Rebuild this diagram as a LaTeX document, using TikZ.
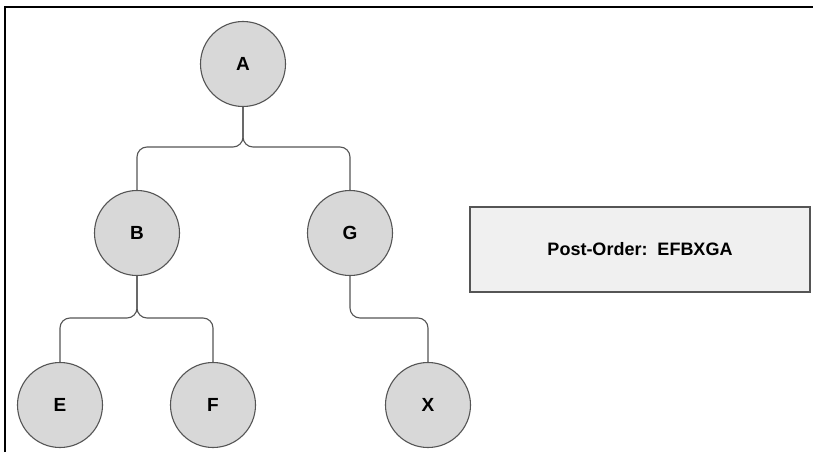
\documentclass[tikz,border=0pt]{standalone}
\usepackage{fontspec}
\setmainfont{Liberation Sans}
\definecolor{nodefill}{RGB}{216,216,216}
\definecolor{boxfill}{RGB}{240,240,240}
\definecolor{edge}{RGB}{85,85,85}
\begin{document}
\begin{tikzpicture}[x=1pt,y=-1pt,
  treenode/.style={circle,draw=edge,line width=1.1pt,fill=nodefill,minimum size=85pt,inner sep=0pt,font=\fontsize{19}{21}\selectfont\bfseries},
  link/.style={draw=edge,line width=1.1pt,rounded corners=10pt},
  resultbox/.style={draw=edge,line width=1.1pt,fill=boxfill,minimum width=340pt,minimum height=85pt,inner sep=0pt,font=\fontsize{18}{20}\selectfont\bfseries}]
\useasboundingbox (0,0) rectangle (813,452);
\fill[white] (0,0) rectangle (813,452);
\draw[line width=2pt,black] (5,452) -- (5,7) -- (813,7);
\node[treenode] (A) at (243,64) {A};
\node[treenode] (B) at (137,233) {B};
\node[treenode] (G) at (350,233) {G};
\node[treenode] (E) at (60,405) {E};
\node[treenode] (F) at (213,405) {F};
\node[treenode] (X) at (428,405) {X};
\node[resultbox] (R) at (640,249.5) {Post-Order:\ \ EFBXGA};
\coordinate (a1) at (243,147);
\coordinate (b1) at (137,318);
\draw[link] (A.south) -- (a1) -| (B.north);
\draw[link] (A.south) -- (a1) -| (G.north);
\draw[link] (B.south) -- (b1) -| (E.north);
\draw[link] (B.south) -- (b1) -| (F.north);
\draw[link] (G.south) |- (389,318) -| (X.north);
\end{tikzpicture}
\end{document}
